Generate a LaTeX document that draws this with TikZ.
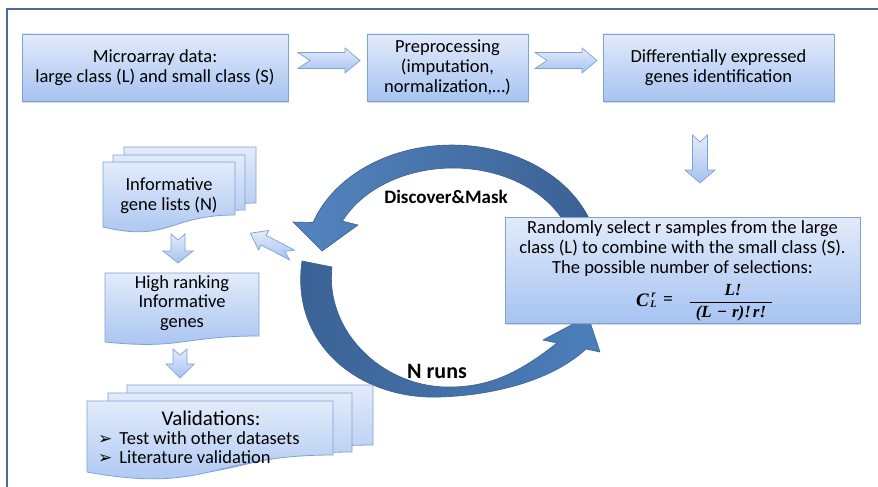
\documentclass[tikz,border=0pt]{standalone}
\usepackage{fontspec}
\setmainfont{Carlito}
\newfontfamily\djv{DejaVu Sans}
\newfontfamily\lsr{Liberation Serif}
\usetikzlibrary{shadows}
\definecolor{frameC}{HTML}{4A6A9A}
\definecolor{boxT}{HTML}{E2EBFA}
\definecolor{boxB}{HTML}{A6C3F1}
\definecolor{boxE}{HTML}{7FA2D6}
\definecolor{arcA}{HTML}{5385C1}
\definecolor{arcB}{HTML}{3B6093}
\definecolor{arcE}{HTML}{3A5F8E}
\definecolor{arcC}{HTML}{3A6194}
\definecolor{arcD}{HTML}{4C7FBB}
\newcommand{\bul}{{\djv\fontsize{17}{18.5}\selectfont\char"27A2}\hspace{7pt}}
\tikzset{
  boxstyle/.style={draw=boxE, line width=0.8pt, top color=boxT, bottom color=boxB,
    drop shadow={shadow xshift=1.2pt, shadow yshift=-1.5pt, opacity=0.3}},
  docstyle/.style={draw=boxE, line width=0.8pt, top color=boxT, bottom color=boxB},
  txt/.style={align=center, font=\fontsize{18.5}{19.7}\selectfont, text=black, inner sep=0pt},
  barrow/.style={draw=boxE, line width=0.7pt, top color=boxT, bottom color=boxB},
  looparc/.style={draw=arcE, line width=0.6pt},
  looplbl/.style={font=\bfseries\fontsize{19}{21}\selectfont, text=black, inner sep=0pt},
  ftxt/.style={font=\lsr\bfseries\itshape\fontsize{17}{18}\selectfont, inner sep=0pt, text=black},
  fsml/.style={font=\lsr\bfseries\itshape\fontsize{10}{11}\selectfont, inner sep=0pt, text=black},
}
% horizontal notched block arrow: x0, xs (head start), xt (tip), yc, half shaft, half head, notch
\newcommand{\blkR}[7]{%
  \path[barrow] (#1,#4-#5) -- (#2,#4-#5) -- (#2,#4-#6) -- (#3,#4) -- (#2,#4+#6)
    -- (#2,#4+#5) -- (#1,#4+#5) -- (#1+#7,#4) -- cycle;}
% downward notched block arrow: xc, y0, ys (head start), yt (tip), half shaft, half head, notch
\newcommand{\blkD}[7]{%
  \path[barrow] (#1-#5,#2) -- (#1,#2+#7) -- (#1+#5,#2) -- (#1+#5,#3) -- (#1+#6,#3)
    -- (#1,#4) -- (#1-#6,#3) -- (#1-#5,#3) -- cycle;}
% document shape: x1, ytop, x2, yright-bottom, yleft-bottom
\newcommand{\docshp}[5]{%
  \path[docstyle] (#1,#2) -- (#3,#2) -- (#3,#4)
    .. controls ({(#1+#3)/2},#4) and ({(#1+#3)/2},{#5+1.31*(#5-#4)}) .. (#1,#5) -- cycle;}
\begin{document}
\begin{tikzpicture}[x=1pt,y=-1pt]
\useasboundingbox (0,0) rectangle (878,487);
\fill[white] (0,0) rectangle (878,487);
% frame
\draw[frameC, line width=1.5pt] (7,487) -- (7,9) -- (878,9);

% loop arrows
\path[looparc, left color=arcA, right color=arcB]
  plot[domain=-10:-161, samples=60] ({452+147*cos(\x)},{260+115*sin(\x)})
  -- (293,222) -- (322,251) -- (358,225)
  -- plot[domain=-155:-10, samples=60] ({453+122*cos(\x)},{260+92*sin(\x)}) -- cycle;
\path[looparc, left color=arcC, right color=arcD]
  (302,261) .. controls (290,345) and (360,400) .. (440,397)
  .. controls (500,395) and (555,378) .. (586,349)
  -- (600,352) -- (588,316) -- (543,340) -- (557,343)
  .. controls (520,372) and (490,388) .. (445,387)
  .. controls (380,385) and (325,330) .. (332,267) -- cycle;
\node[looplbl] (dm) at (446,197) {Discover\&Mask};
\node[looplbl, font=\bfseries\fontsize{22}{24}\selectfont] (nr) at (437,371) {N runs};

% top row
\node[boxstyle, txt, minimum width=266pt, minimum height=67pt] (micro) at (155,67.5)
  {Microarray data:\\large class (L) and small class (S)};
\node[boxstyle, txt, minimum width=161pt, minimum height=67pt] (prep) at (447.5,67.5)
  {Preprocessing\\(imputation,\\normalization,\ldots)};
\node[boxstyle, txt, minimum width=231pt, minimum height=67pt] (deg) at (718.5,67.5)
  {Differentially expressed\\genes identification};
\blkR{298}{345}{360}{60.5}{8}{12.5}{12}
\blkR{535}{582}{597}{60.5}{8}{12.5}{12}
\blkD{700}{135}{170}{183}{7.5}{15}{7}

% random selection box
\node[boxstyle, minimum width=355pt, minimum height=106pt] (rand) at (682.5,270) {};
\node[txt] (randtxt) at (682.5,248.5)
  {Randomly select r samples from the large\\class (L) to combine with the small class (S).\\The possible number of selections:};
% formula C_L^r = L! / ((L - r)! r!)
\node[ftxt, font=\lsr\bfseries\itshape\fontsize{19}{20}\selectfont] (fC) at (642.5,300.5) {C};
\node[fsml] (fr) at (653.5,295) {r};
\node[fsml] (fL) at (653.5,304) {L};
\node[ftxt] (feq) at (668,300.5) {=};
\node[ftxt] (fnum) at (733,290.5) {L!};
\node[ftxt] (fden) at (731,313.5) {(L\hspace{5pt}−\hspace{5pt}r)!\hspace{2pt}r!};
\coordinate (fbarL) at (690,302.5);
\coordinate (fbarR) at (772,302.5);
\draw[line width=0.8pt] (fbarL) -- (fbarR);

% informative gene lists (stack)
\docshp{124}{147}{256}{203}{215}
\docshp{113}{155}{245}{210}{221}
\docshp{103}{162}{235}{215}{227}
\node[txt] (info) at (169,196) {Informative\\gene lists (N)};

% arrow from loop to gene lists
\path[barrow] (294.55,250.13) -- (266.15,235.33) -- (268.7,230.45) -- (250.4,233.2)
  -- (258.5,249.95) -- (261.05,245.07) -- (289.45,259.87) -- (284.9,251.3) -- cycle;

\blkD{178}{234}{251}{263}{7}{15}{6}

% high ranking
\docshp{105}{273}{259}{336}{342}
\node[txt] (high) at (182,303) {High ranking\\Informative\\genes};

\blkD{180}{349}{364}{378}{7}{14}{6}

% validations stack
\docshp{127}{385}{373}{445}{462}
\docshp{108}{393}{352}{452}{468}
\docshp{87}{401}{333}{455}{472}
\node[txt, font=\fontsize{21}{22}\selectfont] (valt) at (211,418) {Validations:};
\node[txt, align=left, anchor=west, font=\fontsize{18.5}{18.8}\selectfont] (vall) at (98,448)
  {\bul Test with other datasets\\ \bul Literature validation};
\end{tikzpicture}
\end{document}
